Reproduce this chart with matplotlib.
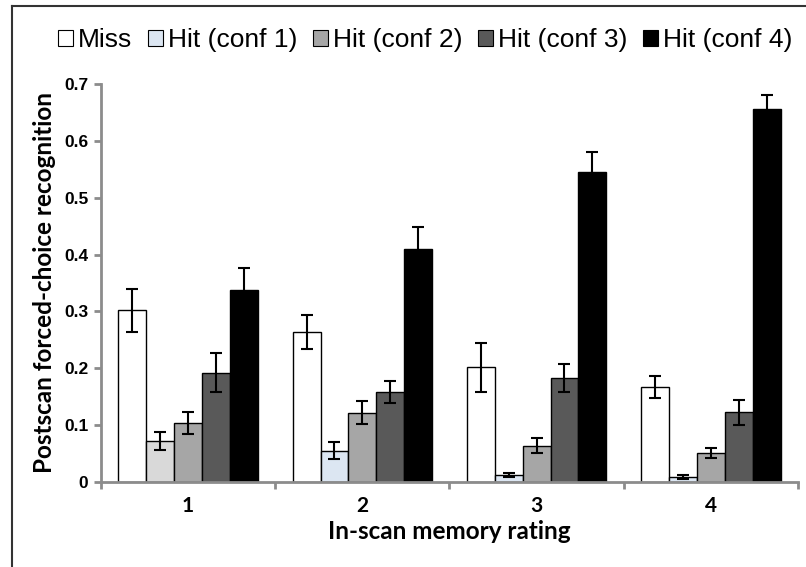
import numpy as np
import matplotlib
matplotlib.use('Agg')
import matplotlib.pyplot as plt
from matplotlib.lines import Line2D
from matplotlib.patches import Patch

ratings = ['1', '2', '3', '4']
series = ['Miss', 'Hit (conf 1)', 'Hit (conf 2)', 'Hit (conf 3)', 'Hit (conf 4)']

miss = [0.302, 0.263, 0.202, 0.167]
conf1 = [0.072, 0.055, 0.012, 0.009]
conf2 = [0.104, 0.122, 0.064, 0.051]
conf3 = [0.192, 0.158, 0.183, 0.123]
conf4 = [0.337, 0.410, 0.545, 0.656]

miss_err = [0.038, 0.030, 0.043, 0.019]
conf1_err = [0.016, 0.015, 0.004, 0.004]
conf2_err = [0.019, 0.020, 0.013, 0.009]
conf3_err = [0.034, 0.019, 0.024, 0.022]
conf4_err = [0.040, 0.038, 0.036, 0.024]

values = [miss, conf1, conf2, conf3, conf4]
errors = [miss_err, conf1_err, conf2_err, conf3_err, conf4_err]
colors = ['white', '#dce6f2', '#a6a6a6', '#595959', 'black']

spine_col = '#8c8c8c'

fig = plt.figure(figsize=(8.06, 5.67), dpi=100)
ax = fig.add_axes([0.1253, 0.150, 0.8647, 0.702])

x = np.arange(len(ratings))
w = 0.16
for i in range(5):
    cols = [colors[i]] * len(ratings)
    if i == 1:
        cols[0] = '#d9d9d9'
    ax.bar(x + (i - 2) * w, values[i], w, color=cols, edgecolor='black',
           linewidth=1.0, zorder=2)
    ax.errorbar(x + (i - 2) * w, values[i], yerr=errors[i], fmt='none',
                ecolor='black', elinewidth=1.5, capsize=4, capthick=1.5, zorder=3)

ax.set_xlim(-0.5, 3.5)
ax.set_ylim(0, 0.7)
ax.set_yticks(np.arange(0, 0.71, 0.1))
ax.set_yticklabels(['0', '0.1', '0.2', '0.3', '0.4', '0.5', '0.6', '0.7'],
                   fontfamily='Liberation Sans', fontweight='bold', fontsize=12.5)
ax.set_xticks(x)
ax.set_xticklabels(ratings, fontfamily='Lato', fontweight='bold', fontsize=15)
ax.set_xticks(np.arange(-0.5, 3.6, 1), minor=True)
ax.tick_params(axis='x', which='major', length=0, pad=10)
ax.tick_params(axis='x', which='minor', length=5, width=2, color=spine_col)
ax.tick_params(axis='y', length=5, width=2, color=spine_col, pad=4)

for s in ['top', 'right']:
    ax.spines[s].set_visible(False)
for s in ['left', 'bottom']:
    ax.spines[s].set_color(spine_col)
    ax.spines[s].set_linewidth(2)

ax.set_xlabel('In-scan memory rating', fontfamily='Lato', fontweight='bold',
              fontsize=17.5, labelpad=3)
ax.set_ylabel('Postscan forced-choice recognition', fontfamily='Lato',
              fontweight='bold', fontsize=17.5, labelpad=6)

handles = [Patch(facecolor=c, edgecolor='black', linewidth=0.8) for c in colors]
leg = fig.legend(handles, series, loc='center', bbox_to_anchor=(0.528, 0.929),
                 ncol=5, frameon=False,
                 prop={'family': 'Liberation Sans', 'size': 19},
                 handlelength=0.55, handleheight=0.55, handletextpad=0.2,
                 columnspacing=0.6)

# outer frame lines (left and top)
fig.add_artist(Line2D([0.0149, 0.0149], [0, 0.989], transform=fig.transFigure,
                      color='#333333', linewidth=1.5))
fig.add_artist(Line2D([0.0149, 1.0], [0.989, 0.989], transform=fig.transFigure,
                      color='#333333', linewidth=1.5))

fig.savefig('out.png', dpi=100)
